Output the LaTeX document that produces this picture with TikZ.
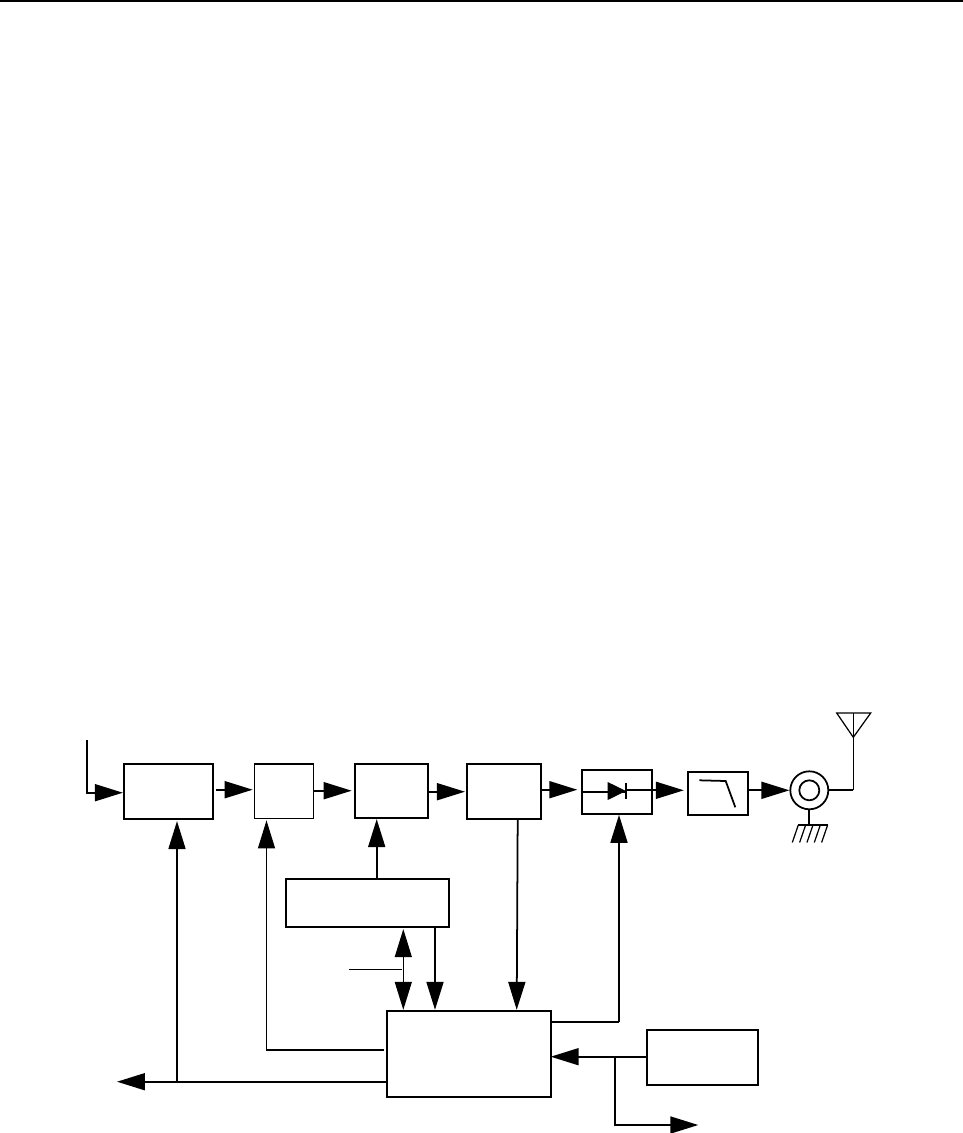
\documentclass[tikz,border=0pt]{standalone}
\usepackage{tikz}
\usetikzlibrary{arrows.meta,positioning,shapes.geometric}

\begin{document}
\begin{tikzpicture}[
  x=0.02cm, y=-0.02cm,
  line width=1pt,
  block/.style={rectangle, draw=black, inner sep=0pt},
  size/.style 2 args={minimum width=#1*0.02cm, minimum height=#2*0.02cm},
  arrow/.style={-{Triangle[length=0.56cm, width=0.34cm]}, line join=miter},
  twoway/.style={{Triangle[length=0.56cm, width=0.34cm]}-{Triangle[length=0.56cm, width=0.34cm]}, line width=0.7pt},
  thinline/.style={line width=0.7pt}
]
\useasboundingbox (0,0) rectangle (963,1133);

% --- PAGE RULE ---
\coordinate (ruleleft) at (0,1);
\coordinate (ruleright) at (963,1);
\draw[line width=1.1pt] (ruleleft) -- (ruleright);

% --- TOP CHAIN ---
\node[block, size={89.3}{55}] (coder) at (168.4,791.2) {};
\node[block, size={59}{54.3}, thinline] (mapper) at (283.8,791.1) {};
\node[block, size={73.3}{54.3}] (mixer) at (391.7,791.1) {};
\node[block, size={73.7}{55}] (driver) at (504.2,791.2) {};
\node[block, size={70.6}{44.3}] (diode) at (617,791.8) {};
\node[block, size={60.6}{43.3}] (filter) at (718,793.3) {};
\node[circle, draw=black, inner sep=0pt, minimum size=0.76cm] (port) at (809.3,790.3) {};
\node[circle, draw=black, inner sep=0pt, minimum size=0.4cm] (portin) at (809.3,790.3) {};

% --- LOWER BLOCKS ---
\node[block, size={163.3}{48}] (synth) at (367.7,902.7) {};
\node[block, size={164.3}{86}] (ctrl) at (469.2,1053.7) {};
\node[block, size={111.6}{55}] (clock) at (702.5,1057.5) {};

% --- FREE ENDS ---
\coordinate (input) at (87,740);
\coordinate (inturn) at (87,792.7);
\coordinate (anttop) at (853.3,713);
\coordinate (antapex) at (853.3,737.3);
\coordinate (antturn) at (853.3,790.3);
\coordinate (gnd) at (809.3,825);
\coordinate (busleft) at (117,1081.7);
\coordinate (bustap) at (177,1081.7);
\coordinate (mapturn) at (266.5,1050);
\coordinate (mixtap) at (376.7,850);
\coordinate (duplex) at (403.3,970);
\coordinate (synthtap) at (435,970);
\coordinate (stub) at (349,969.3);
\coordinate (stubend) at (402,969.3);
\coordinate (dioturn) at (619,1021.7);
\coordinate (clktap) at (615,1056.7);
\coordinate (clkturn) at (615,1125);
\coordinate (clkout) at (698.3,1125);

% --- CHAIN ARROWS ---
\draw[arrow] (input) -- (inturn) -- (inturn -| coder.west);
\draw[arrow] ([xshift=0.04cm]coder.east |- 0,789.7) -- ([xshift=-0.02cm]mapper.west |- 0,789.7);
\draw[arrow] (mapper.east |- 0,790.7) -- ([xshift=-0.05cm]mixer.west |- 0,790.7);
\draw[arrow] (mixer.east |- 0,791.7) -- ([xshift=-0.03cm]driver.west |- 0,791.7);
\draw[arrow] ([xshift=-0.04cm]driver.east |- 0,789.7) -- ([xshift=-0.07cm]diode.west |- 0,789.7);
\draw (diode.west |- 0,791.7) -- ([xshift=0.18cm]diode.center |- 0,791.7);
\draw[arrow] ([xshift=0.18cm]diode.center |- 0,790.3) -- ([xshift=-0.06cm]filter.west |- 0,790.3);
\draw[arrow] (filter.east |- port) -- (port.west);

% Diode and filter marks
\fill (607.7,782) -- (626,791) -- (607.7,800) -- cycle;
\draw (626,783) -- (626,799);
\draw (699.3,780.3) -- (725.7,781) -- (735.3,807.3);

% Antenna and ground
\draw (port.east) -- (antturn);
\draw[thinline] (antturn) -- (anttop);
\draw[thinline, line join=miter] (836.7,713) -- (870.7,713) -- (antapex) -- cycle;
\draw (port.south) -- (gnd);
\draw (798.3,825) -- (827.7,825);
\foreach \i in {0,...,4} {
  \draw[thinline] (798.3+\i*7.33,825) -- (792.3+\i*7.33,842.5);
}

% --- CONTROL ARROWS ---
\draw[arrow] (ctrl.west |- busleft) -- (busleft);
\draw[arrow] (bustap) -- ([yshift=-0.03cm]bustap |- coder.south);
\draw[arrow, thinline] ([xshift=-0.04cm]ctrl.west |- mapturn) -- (mapturn) -- ([yshift=-0.03cm]mapturn |- mapper.south);
\draw[arrow] (mixtap |- synth.north) -- (mixtap |- mixer.south);
\draw[twoway] ([yshift=-0.03cm]duplex |- synth.south) -- (duplex |- ctrl.north);
\draw[thinline] (stub) -- (stubend);
\draw[arrow] (synthtap |- synth.south) -- (synthtap |- ctrl.north);
\draw[arrow] (517.7,818.7 |- driver.south) -- (516.7,1010.7 |- ctrl.north);
\draw[line join=miter] (ctrl.east |- dioturn) -- (dioturn);
\draw[arrow] (dioturn) -- (dioturn |- diode.south);

% --- CLOCK ARROWS ---
\draw[arrow] (clock.west |- clktap) -- ([xshift=-0.03cm]ctrl.east |- clktap);
\draw[arrow] (clktap) -- (clkturn) -- (clkout);

\end{tikzpicture}
\end{document}
